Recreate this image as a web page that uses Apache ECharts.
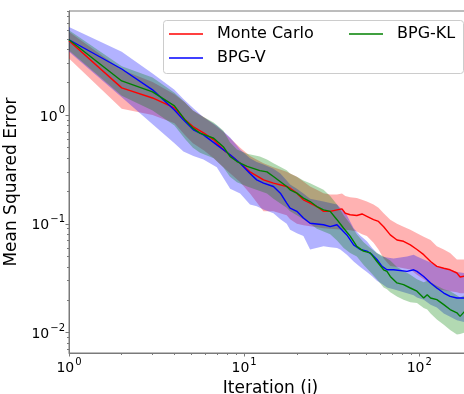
<!DOCTYPE html>
<html><head><meta charset="utf-8">
<script src="https://cdn.jsdelivr.net/npm/echarts@6/dist/echarts.min.js"></script>
<style>html,body{margin:0;padding:0;background:#fff}#c{width:464px;height:394px}</style>
</head><body><div id="c"></div>
<script>
// ---- data ----
const mcX    = [1, 2, 3, 4, 4.6, 5.1, 5.9, 6.7, 7.6, 9.5, 10.8, 12.9, 14.7, 17.5, 18.3, 20, 21.8, 23.8, 26, 28.4, 31, 33.9, 36.2, 37.8, 40.3, 44, 47.1, 50.2, 54.8, 58.5, 62.6, 68.3, 74.6, 81.3, 88.9, 97, 106, 116, 126, 138, 150, 164, 171, 181, 200];
const mcMean = [4.8, 1.77, 1.43, 1.16, 0.90, 0.78, 0.68, 0.59, 0.48, 0.36, 0.30, 0.253, 0.236, 0.22, 0.212, 0.191, 0.166, 0.155, 0.144, 0.13, 0.13, 0.134, 0.137, 0.125, 0.121, 0.119, 0.123, 0.117, 0.109, 0.105, 0.094, 0.079, 0.071, 0.069, 0.064, 0.058, 0.052, 0.045, 0.0406, 0.039, 0.0378, 0.0353, 0.0324, 0.033, 0.032];
const mcHi   = [5.8, 2.6, 2.0, 1.55, 1.3, 1.1, 0.95, 0.82, 0.70, 0.50, 0.42, 0.36, 0.33, 0.30, 0.29, 0.27, 0.244, 0.22, 0.205, 0.191, 0.186, 0.186, 0.19, 0.18, 0.175, 0.172, 0.166, 0.16, 0.15, 0.14, 0.125, 0.109, 0.10, 0.094, 0.088, 0.082, 0.076, 0.071, 0.062, 0.058, 0.054, 0.047, 0.047, 0.047, 0.046];
const mcLo   = [3.3, 1.14, 1.0, 0.84, 0.65, 0.55, 0.47, 0.40, 0.33, 0.24, 0.19, 0.13, 0.13, 0.12, 0.11, 0.10, 0.097, 0.095, 0.093, 0.091, 0.09, 0.089, 0.088, 0.088, 0.087, 0.085, 0.08, 0.077, 0.067, 0.058, 0.048, 0.041, 0.040, 0.039, 0.038, 0.034, 0.031, 0.028, 0.025, 0.0245, 0.024, 0.0235, 0.023, 0.023, 0.023];

const bvX    = [1, 2, 3, 4, 4.5, 5.13, 5.86, 6.98, 8.32, 9.49, 10.8, 11.8, 12.9, 14.7, 16.1, 17.5, 18.3, 20, 21.8, 23.8, 28.4, 31, 33.9, 35.4, 38.6, 42.2, 46, 50.2, 53.8, 57.3, 61.3, 65.4, 71.3, 85.1, 92.9, 97, 106, 116, 126, 138, 150, 164, 181, 200];
const bvMean = [4.9, 2.64, 1.70, 1.11, 0.90, 0.73, 0.656, 0.531, 0.43, 0.36, 0.29, 0.253, 0.236, 0.22, 0.191, 0.155, 0.139, 0.13, 0.113, 0.101, 0.098, 0.094, 0.098, 0.091, 0.079, 0.064, 0.058, 0.056, 0.052, 0.047, 0.0406, 0.0378, 0.0378, 0.0365, 0.0378, 0.0365, 0.0328, 0.0286, 0.0257, 0.0231, 0.0215, 0.0208, 0.0208, 0.0205];
const bvHi   = [6.4, 3.8, 2.4, 1.7, 1.4, 1.15, 0.95, 0.80, 0.62, 0.48, 0.40, 0.37, 0.35, 0.32, 0.29, 0.25, 0.23, 0.21, 0.19, 0.17, 0.16, 0.155, 0.15, 0.14, 0.12, 0.091, 0.078, 0.069, 0.06, 0.054, 0.05, 0.049, 0.048, 0.05, 0.052, 0.05, 0.047, 0.044, 0.041, 0.039, 0.0378, 0.036, 0.0353, 0.035];
const bvLo   = [3.8, 1.45, 0.82, 0.55, 0.46, 0.42, 0.39, 0.33, 0.21, 0.19, 0.15, 0.145, 0.135, 0.125, 0.11, 0.10, 0.088, 0.082, 0.077, 0.058, 0.062, 0.061, 0.06, 0.058, 0.052, 0.045, 0.04, 0.036, 0.033, 0.03, 0.028, 0.026, 0.025, 0.023, 0.022, 0.021, 0.02, 0.018, 0.017, 0.015, 0.014, 0.013, 0.0125, 0.012];

const klX    = [1, 2, 3, 4, 4.6, 5.1, 5.6, 6.7, 7.6, 8.3, 9.1, 10.4, 12.3, 13.5, 14.7, 17.5, 18.3, 20, 21.8, 23.8, 26, 28.4, 31, 33.9, 37, 40.3, 44, 48, 52.5, 57.3, 62.6, 65.4, 68.3, 74.6, 81.3, 88.9, 97, 106, 111, 116, 126, 138, 150, 164, 171, 181, 200];
const klMean = [4.9, 2.05, 1.63, 1.21, 0.90, 0.755, 0.68, 0.61, 0.51, 0.415, 0.373, 0.336, 0.308, 0.30, 0.272, 0.22, 0.205, 0.191, 0.172, 0.16, 0.144, 0.134, 0.13, 0.109, 0.091, 0.077, 0.062, 0.056, 0.054, 0.045, 0.0378, 0.0365, 0.0328, 0.0286, 0.0276, 0.0257, 0.024, 0.0208, 0.0223, 0.0208, 0.0201, 0.0181, 0.0163, 0.0152, 0.0141, 0.0156, 0.015];
const klHi   = [6.0, 2.8, 2.2, 1.6, 1.3, 1.1, 1.0, 0.85, 0.72, 0.56, 0.48, 0.44, 0.415, 0.39, 0.36, 0.31, 0.29, 0.27, 0.25, 0.235, 0.22, 0.205, 0.18, 0.15, 0.12, 0.10, 0.08, 0.068, 0.06, 0.054, 0.05, 0.048, 0.046, 0.04, 0.037, 0.034, 0.031, 0.029, 0.03, 0.029, 0.027, 0.025, 0.024, 0.022, 0.021, 0.022, 0.021];
const klLo   = [3.9, 1.5, 1.1, 0.8, 0.6, 0.5, 0.45, 0.40, 0.33, 0.27, 0.24, 0.22, 0.20, 0.19, 0.17, 0.14, 0.13, 0.12, 0.11, 0.10, 0.09, 0.085, 0.08, 0.07, 0.06, 0.054, 0.05, 0.042, 0.036, 0.031, 0.026, 0.025, 0.0235, 0.0215, 0.02, 0.019, 0.0187, 0.0168, 0.0163, 0.015, 0.0132, 0.0118, 0.0106, 0.0096, 0.0097, 0.01, 0.01];

const seriesNames = ['Monte Carlo', 'BPG-V', 'BPG-KL'];
const xMajorTicks = [1, 10, 100];
const xMinorTicks = [2, 3, 4, 5, 6, 7, 8, 9, 20, 30, 40, 50, 60, 70, 80, 90, 200];
const yMajorTicks = [0.01, 0.1, 1];
const yMinorTicks = [0.007, 0.008, 0.009, 0.02, 0.03, 0.04, 0.05, 0.06, 0.07, 0.08, 0.09, 0.2, 0.3, 0.4, 0.5, 0.6, 0.7, 0.8, 0.9, 2, 3, 4, 5, 6, 7, 8, 9];
const xMin = 1, xMax = 200, yMin = 0.0065, yMax = 9.0;

// ---- chart ----
const FONT = 'DejaVu Sans';
const SPINE = '#7a7a7a';
const pairs = (xs, ys) => xs.map((x, i) => [x, ys[i]]);
function pow10Label(v) {
  const e = Math.round(Math.log10(v));
  const s = e < 0 ? '\u2212' + (-e) : String(e);
  return '{b|10}{s|' + s + '}';
}
const richLabel = {
  b: { fontSize: 14, fontFamily: FONT, color: '#000', lineHeight: 18, verticalAlign: 'bottom' },
  s: { fontSize: 10, fontFamily: FONT, color: '#000', lineHeight: 18, verticalAlign: 'top', padding: [0, 0, 6, 1] }
};
function band(xs, lo, hi, color) {
  return {
    type: 'custom', coordinateSystem: 'cartesian2d', silent: true, clip: true, z: 1,
    data: [[xs[0], hi[0]]],
    renderItem: function (params, api) {
      const pts = [];
      for (let i = 0; i < xs.length; i++) pts.push(api.coord([xs[i], hi[i]]));
      for (let i = xs.length - 1; i >= 0; i--) pts.push(api.coord([xs[i], lo[i]]));
      return { type: 'polygon', shape: { points: pts }, style: { fill: color, stroke: null } };
    }
  };
}
function line(name, xs, ys, color) {
  return { type: 'line', name: name, data: pairs(xs, ys), showSymbol: false, symbol: 'none', z: 3,
    lineStyle: { color: color, width: 1.4 }, itemStyle: { color: color } };
}
const axisCommonX = { type: 'log', logBase: 10, min: xMin, max: xMax, gridIndex: 0, position: 'bottom', splitLine: { show: false } };
const axisCommonY = { type: 'log', logBase: 10, min: yMin, max: yMax, gridIndex: 0, position: 'left', splitLine: { show: false } };

const chart = echarts.init(document.getElementById('c'), null, { renderer: 'canvas' });
chart.setOption({
  animation: false,
  backgroundColor: '#fff',
  grid: { left: 69, top: 11, right: -8, bottom: 41, show: true, borderColor: SPINE, borderWidth: 1, backgroundColor: 'transparent',
    containLabel: false, outerBoundsMode: 'none' },
  xAxis: [
    Object.assign({}, axisCommonX, {
      name: 'Iteration (i)', nameLocation: 'middle', nameGap: 21,
      nameTextStyle: { fontSize: 17, fontFamily: FONT, color: '#000' },
      axisLine: { show: true, lineStyle: { color: SPINE, width: 1 } },
      axisTick: { show: true, inside: false, length: 3.5, customValues: xMajorTicks, lineStyle: { color: SPINE } },
      axisLabel: { show: true, margin: 4, customValues: xMajorTicks, formatter: pow10Label, rich: richLabel, hideOverlap: false }
    }),
    Object.assign({}, axisCommonX, {
      axisLine: { show: false },
      axisTick: { show: true, inside: false, length: 2, customValues: xMinorTicks, lineStyle: { color: SPINE } },
      axisLabel: { show: false }
    })
  ],
  yAxis: [
    Object.assign({}, axisCommonY, {
      name: 'Mean Squared Error', nameLocation: 'middle', nameGap: 34, nameRotate: 90,
      nameTextStyle: { fontSize: 17, fontFamily: FONT, color: '#000' },
      axisLine: { show: true, lineStyle: { color: SPINE, width: 1 } },
      axisTick: { show: true, inside: false, length: 3.5, customValues: yMajorTicks, lineStyle: { color: SPINE } },
      axisLabel: { show: true, margin: 4, customValues: yMajorTicks, formatter: pow10Label, rich: richLabel, hideOverlap: false }
    }),
    Object.assign({}, axisCommonY, {
      axisLine: { show: false },
      axisTick: { show: true, inside: false, length: 2, customValues: yMinorTicks, lineStyle: { color: SPINE } },
      axisLabel: { show: false }
    })
  ],
  legend: [
    { data: ['Monte Carlo', 'BPG-V'], orient: 'vertical', left: 169, top: 26, padding: 0, itemWidth: 34, itemHeight: 1.5, itemGap: 8,
      icon: 'rect', selectedMode: false, z: 60,
      textStyle: { fontSize: 16, fontFamily: FONT, color: '#000', lineHeight: 16, padding: [0, 0, 0, 9] } },
    { data: ['BPG-KL'], orient: 'vertical', left: 349, top: 26, padding: 0, itemWidth: 34, itemHeight: 1.5, itemGap: 8,
      icon: 'rect', selectedMode: false, z: 60,
      textStyle: { fontSize: 16, fontFamily: FONT, color: '#000', lineHeight: 16, padding: [0, 0, 0, 9] } }
  ],
  graphic: [
    { type: 'rect', left: 163, top: 20, z: 50, shape: { width: 300, height: 53, r: 3 },
      style: { fill: 'rgba(255,255,255,0.8)', stroke: '#cccccc', lineWidth: 1 } }
  ],
  series: [
    band(mcX, mcLo, mcHi, 'rgba(255,0,0,0.3)'),
    band(bvX, bvLo, bvHi, 'rgba(0,0,255,0.3)'),
    band(klX, klLo, klHi, 'rgba(0,128,0,0.3)'),
    line(seriesNames[0], mcX, mcMean, '#ff0000'),
    line(seriesNames[1], bvX, bvMean, '#0000ff'),
    line(seriesNames[2], klX, klMean, '#008000')
  ]
});
</script>
</body></html>
